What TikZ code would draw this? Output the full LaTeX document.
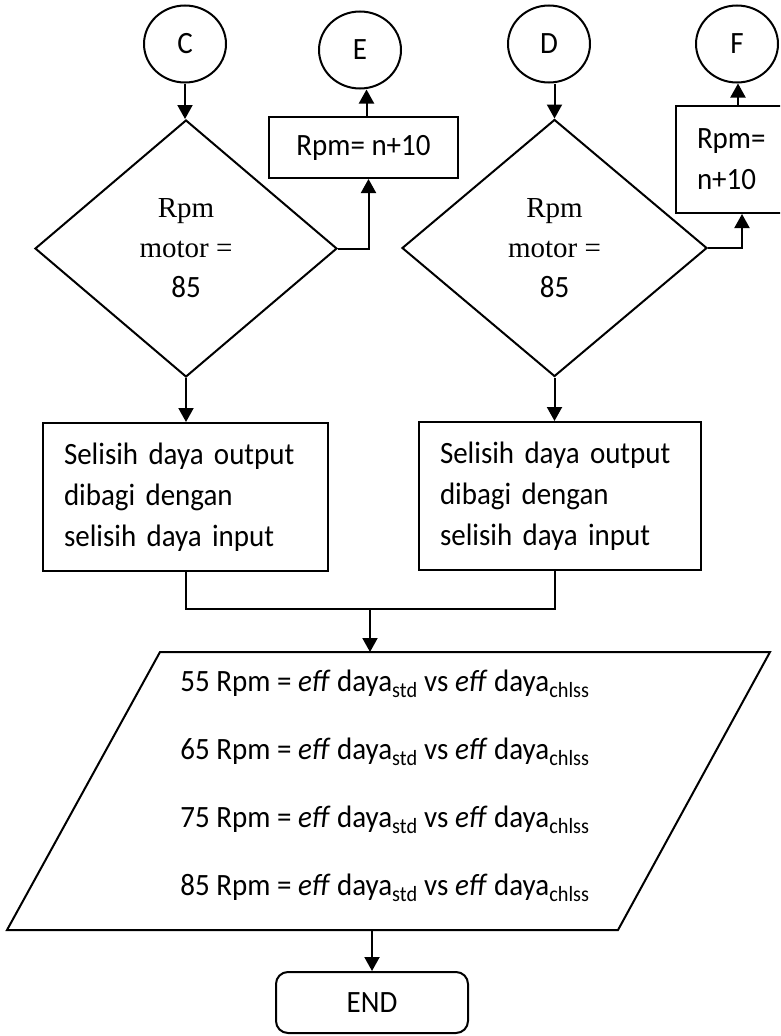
\documentclass[tikz,border=0pt]{standalone}
\usepackage{fontspec}
\setmainfont{Carlito}[FakeStretch=0.935]
\newfontfamily\tnr{Liberation Serif}
\usetikzlibrary{shapes.geometric,arrows.meta}
\begin{document}
\begin{tikzpicture}[x=1pt,y=-1pt,line width=2pt,
  every node/.style={font=\fontsize{31}{41}\selectfont},
  conn/.style={ellipse,draw,minimum width=82pt,minimum height=77pt,inner sep=0pt},
  dec/.style={diamond,draw,minimum height=257pt,inner sep=0pt,align=center,font=\fontsize{31}{40}\selectfont},
  proc/.style={rectangle,draw,align=left,inner xsep=21pt,inner ysep=0pt},
  arr/.style={-{Triangle[length=14pt,width=15pt]}},
  term/.style={rectangle,draw,rounded corners=12pt,minimum width=192pt,minimum height=61pt,inner sep=0pt}]
\useasboundingbox (0,0) rectangle (780,1036);
\fill[white] (0,0) rectangle (780,1036);
\begin{scope}
\clip (0,0) rectangle (780,1036);
% connectors (circles)
\node[conn] (C) at (185,44) {C};
\node[conn] (E) at (360,50) {E};
\node[conn] (D) at (549,44) {D};
\node[conn] (F) at (737,44) {F};
% decisions
\node[dec,minimum width=302pt] (d1) at (186,248.5) {{\tnr\fontsize{29}{40}\selectfont Rpm}\\{\tnr\fontsize{29}{40}\selectfont motor =}\\85};
\node[dec,minimum width=305pt] (d2) at (554.5,248) {{\tnr\fontsize{29}{40}\selectfont Rpm}\\{\tnr\fontsize{29}{40}\selectfont motor =}\\85};
% small process boxes
\node[rectangle,draw,minimum width=189pt,minimum height=61pt,inner sep=0pt] (bE) at (363.5,147.5) {Rpm= n+10};
\node[proc,text width=82pt,minimum height=107pt] (bF) at (738,159.5) {Rpm=\\n+10};
% large process boxes
\node[proc,text width=243pt,minimum height=148pt] (b1) at (185.5,497) {Selisih daya output\\dibagi dengan\\selisih daya input};
\node[proc,text width=240pt,minimum height=148pt] (b2) at (560,496) {Selisih daya output\\dibagi dengan\\selisih daya input};
% input/output parallelogram
\draw (160,652) -- (770,652) -- (618,930) -- (7,930) -- cycle;
\coordinate (pin) at (370,652);
\coordinate (pout) at (372,930);
\coordinate (mrg) at (370,609);
\node[align=left,font=\fontsize{31}{68}\selectfont] (io) at (385,786) {%
55 Rpm = \textit{eff} daya\textsubscript{std} vs \textit{eff} daya\textsubscript{chlss}\\
65 Rpm = \textit{eff} daya\textsubscript{std} vs \textit{eff} daya\textsubscript{chlss}\\
75 Rpm = \textit{eff} daya\textsubscript{std} vs \textit{eff} daya\textsubscript{chlss}\\
85 Rpm = \textit{eff} daya\textsubscript{std} vs \textit{eff} daya\textsubscript{chlss}};
% terminal
\node[term] (end) at (372,1002.5) {\raisebox{-4pt}{END}};
% arrows
\draw[arr] (C.south) -- (C.south |- d1.north);
\draw[arr] (d1.east) -| ([xshift=5pt]bE.south);
\draw[arr] ([xshift=3pt]bE.north) -- ([xshift=3pt]bE.north |- E.south);
\draw[arr] (d2.north |- D.south) -- (d2.north);
\draw[arr] (d2.east) -| ([xshift=4pt]bF.south);
\draw[arr] (bF.north) -- (bF.north |- F.south);
\draw[arr] (d1.south) -- (d1.south |- b1.north);
\draw[arr] (d2.south) -- (d2.south |- b2.north);
\draw (b1.south) |- (mrg) -| (d2.south |- b2.south);
\draw[arr] (mrg) -- (pin);
\draw[arr] (pout) -- (end.north);
\end{scope}
\end{tikzpicture}
\end{document}
